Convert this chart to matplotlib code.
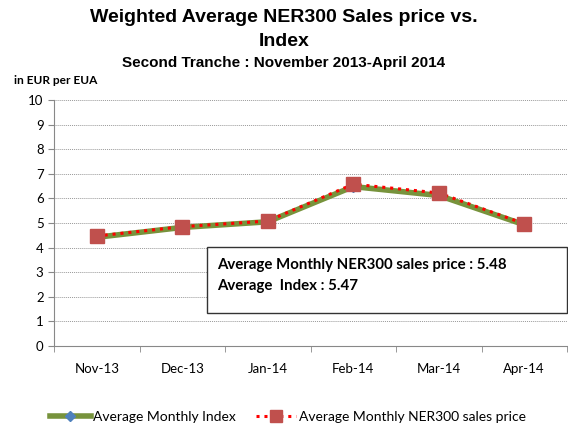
import numpy as np
import matplotlib.pyplot as plt
from matplotlib.lines import Line2D

# Data
months = ["Nov-13", "Dec-13", "Jan-14", "Feb-14", "Mar-14", "Apr-14"]
index_vals = [4.42, 4.82, 5.05, 6.48, 6.12, 4.93]
price_vals = [4.47, 4.85, 5.08, 6.58, 6.22, 4.97]

plt.rcParams['font.family'] = ['Lato', 'DejaVu Sans']

fig = plt.figure(figsize=(5.68, 4.26), dpi=100)
ax = fig.add_axes([54 / 568, 1 - 346 / 426, (567 - 54) / 568, (346 - 100) / 426])

x = np.arange(len(months))
ax.plot(x, index_vals, color="#77933C", lw=4, marker="D", ms=5,
        mfc="#4F81BD", mec="#4F81BD", zorder=3)
ax.plot(x, price_vals, color="#FF0000", lw=2.2, ls=(0, (1, 1.6)), marker="s", ms=10,
        mfc="#C0504D", mec="#C0504D", zorder=4)

ax.set_xlim(-0.5, len(months) - 0.5)
ax.set_ylim(0, 10)
ax.set_yticks(range(0, 11))
ax.set_xticks(x)
ax.set_xticklabels(months, fontsize=9.5)
ax.set_xticks(np.arange(-0.5, len(months)), minor=True)
ax.tick_params(axis="x", which="major", length=0, pad=12)
ax.tick_params(axis="x", which="minor", length=4, color="#888888")
ax.tick_params(axis="y", length=4, color="#888888", labelsize=9.5)
ax.grid(axis="y", color="#999999", ls=(0, (1, 1)), lw=0.7)
for s in ["top", "right"]:
    ax.spines[s].set_visible(False)
for s in ["left", "bottom"]:
    ax.spines[s].set_color("#888888")

# Titles
fig.text(0.5, 1 - 18 / 426, "Weighted Average NER300 Sales price vs.", ha="center", va="center",
         fontsize=14, fontweight="bold", family="Liberation Sans")
fig.text(0.5, 1 - 42 / 426, "Index", ha="center", va="center",
         fontsize=14, fontweight="bold", family="Liberation Sans")
fig.text(0.5, 1 - 63 / 426, "Second Tranche : November 2013-April 2014", ha="center", va="center",
         fontsize=11, fontweight="bold", family="Liberation Sans")
fig.text(14 / 568, 1 - 80 / 426, "in EUR per EUA", ha="left", va="center",
         fontsize=8.6, fontweight="bold")

# Annotation box
fig.patches.append(plt.Rectangle((207 / 568, 1 - 313 / 426), 360 / 568, 66 / 426,
                                 transform=fig.transFigure, fill=True, fc="white",
                                 ec="#333333", lw=1, zorder=5))
fig.text(217 / 568, 1 - 265 / 426, "Average Monthly NER300 sales price : 5.48", ha="left",
         va="center", fontsize=10.8, fontweight="bold", zorder=6)
fig.text(217 / 568, 1 - 286 / 426, "Average  Index : 5.47", ha="left",
         va="center", fontsize=10.8, fontweight="bold", zorder=6)

# Legend
handles = [
    Line2D([], [], color="#77933C", lw=4, marker="D", ms=5, mfc="#4F81BD", mec="#4F81BD"),
    Line2D([], [], color="#FF0000", lw=2.2, ls=(0, (1, 1.6)), marker="s", ms=9,
           mfc="#C0504D", mec="#C0504D"),
]
fig.legend(handles, ["Average Monthly Index", "Average Monthly NER300 sales price"],
           loc="center", bbox_to_anchor=(288 / 568, 1 - 417 / 426), ncol=2, frameon=False,
           fontsize=10, handlelength=2.9, columnspacing=1.4, handletextpad=0.2)

plt.savefig("out.png", dpi=100)
